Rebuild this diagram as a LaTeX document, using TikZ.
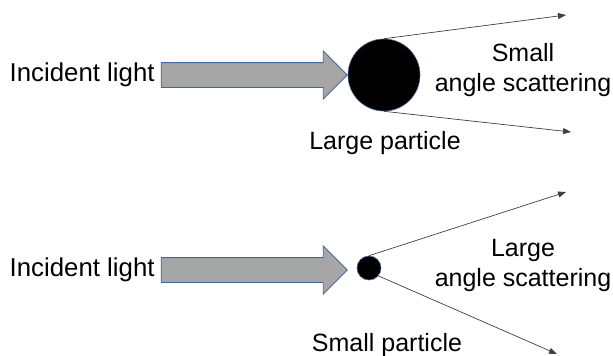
\documentclass[tikz,border=0pt]{standalone}
\usepackage{fontspec}
\setmainfont{Liberation Sans}
\usetikzlibrary{arrows.meta,positioning,shapes.arrows}
\definecolor{beam}{HTML}{A6A6A6}
\definecolor{edge}{HTML}{44679A}
\definecolor{ray}{HTML}{404040}
\begin{document}
\begin{tikzpicture}[x=1pt, y=-1pt,
  lab/.style={font=\fontsize{25}{30}\selectfont, inner sep=0pt, align=center},
  beamarrow/.style={single arrow, draw=edge, fill=beam, line width=0.8pt, inner xsep=0pt, inner ysep=12pt,
    text height=0pt, text depth=0pt, minimum height=186pt, single arrow head extend=11.5pt, shape border rotate=0},
  particle/.style={circle, draw=edge, fill=black, line width=0.6pt, inner sep=0pt},
  rayarr/.style={-{Triangle[length=8pt, width=6pt]}, draw=ray, line width=0.7pt},
]
\useasboundingbox (0,0) rectangle (613,356);
% top: large particle
\node[beamarrow] (beam1) at (248,75) {};
\node[lab, left=6pt of beam1, font=\fontsize{25.8}{30}\selectfont] (inc1) {Incident light};
\node[particle, minimum size=72pt] (bigp) at (384,75) {};
\node[lab] (bigl) at (385,143) {Large particle};
\coordinate (t1) at (566,15);
\coordinate (b1) at (571,132);
\draw[rayarr] (bigp.north) -- (t1);
\draw[rayarr] (bigp.south) -- (b1);
\node[lab] (small1) at (523,70) {Small\\angle scattering};
% bottom: small particle
\node[beamarrow] (beam2) at (248,270) {};
\node[lab, left=6pt of beam2, font=\fontsize{25.8}{30}\selectfont] (inc2) {Incident light};
\node[particle, minimum size=24pt] (smp) at (369,268) {};
\node[lab] (smll) at (387,345) {Small particle};
\coordinate (t2) at (566,192);
\coordinate (b2) at (557,354);
\draw[rayarr] (smp.north) -- (t2);
\draw[rayarr] (smp.-40) -- (b2);
\node[lab] (large2) at (523,265) {Large\\angle scattering};
\end{tikzpicture}
\end{document}
